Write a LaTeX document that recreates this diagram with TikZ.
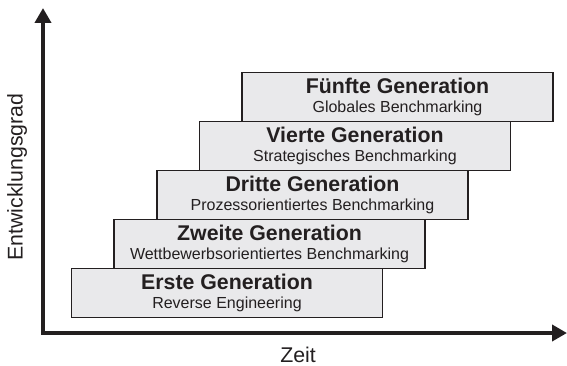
\documentclass[tikz,border=0pt]{standalone}
\usepackage{fontspec}
\setmainfont{Liberation Sans}
\usepackage{tikz}
\usetikzlibrary{arrows.meta,positioning}
\definecolor{Ink}{HTML}{231F20}
\definecolor{PaleGrey}{HTML}{E9E9EB}

\begin{document}
\begin{tikzpicture}[
  x=1pt,y=1pt,
  font=\fontsize{21.3}{24}\selectfont,
  genbox/.style={draw=Ink,line width=1.5pt,fill=PaleGrey,minimum width=311pt,minimum height=49pt,inner sep=0pt,align=center,text=Ink},
  axis/.style={{Triangle[length=15pt,width=16pt]}-{Triangle[length=15pt,width=16pt]},line width=4pt,color=Ink}
]
\useasboundingbox (0,0) rectangle (567,365);

\coordinate (ytip) at (43,357);
\coordinate (origin) at (43,32);
\coordinate (xtip) at (567,32);
\draw[axis] (ytip)--(origin)--(xtip);

\node[genbox] (gen1) at (227,72)
  {\textbf{Erste Generation}\\[-5.5pt]{\fontsize{16}{17}\selectfont Reverse Engineering}};
\node[genbox] (gen2) at (269.5,121)
  {\textbf{Zweite Generation}\\[-5.5pt]{\fontsize{16}{17}\selectfont Wettbewerbsorientiertes Benchmarking}};
\node[genbox] (gen3) at (312.5,170)
  {\textbf{Dritte Generation}\\[-5.5pt]{\fontsize{16}{17}\selectfont Prozessorientiertes Benchmarking}};
\node[genbox] (gen4) at (355,219)
  {\textbf{Vierte Generation}\\[-5.5pt]{\fontsize{16}{17}\selectfont Strategisches Benchmarking}};
\node[genbox] (gen5) at (397.5,268)
  {\textbf{Fünfte Generation}\\[-5.5pt]{\fontsize{16}{17}\selectfont Globales Benchmarking}};

\node[Ink,rotate=90] (ylabel) at (17,188) {Entwicklungsgrad};
\node[Ink,anchor=base] (xlabel) at (298,3) {Zeit};
\end{tikzpicture}
\end{document}
